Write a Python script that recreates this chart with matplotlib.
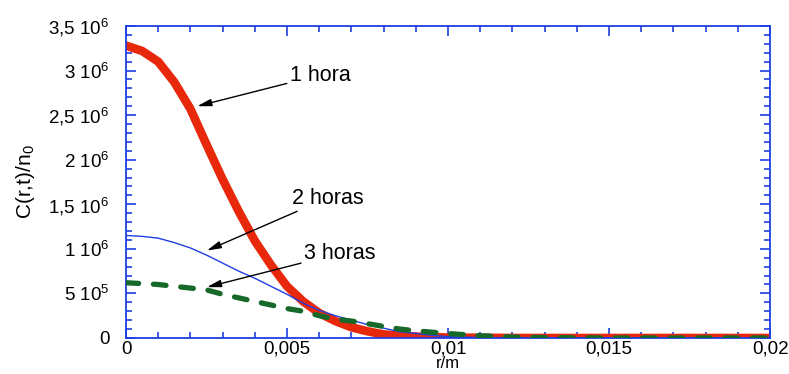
import matplotlib
matplotlib.use("Agg")
import matplotlib.pyplot as plt
from matplotlib.ticker import FixedLocator, FixedFormatter, MultipleLocator

plt.rcParams['font.family'] = ['Liberation Sans', 'DejaVu Sans']
plt.rcParams['mathtext.fontset'] = 'custom'
plt.rcParams['mathtext.rm'] = 'Liberation Sans'
plt.rcParams['mathtext.it'] = 'Liberation Sans'

# ---- data ----
r_1h = [0, 0.0005, 0.001, 0.0015, 0.002, 0.0025, 0.003, 0.0035, 0.004, 0.0045,
        0.005, 0.0055, 0.006, 0.0065, 0.007, 0.0075, 0.008, 0.009, 0.01, 0.012,
        0.015, 0.02]
c_1h = [3.28e6, 3.22e6, 3.10e6, 2.87e6, 2.57e6, 2.17e6, 1.78e6, 1.42e6, 1.09e6, 0.82e6,
        0.58e6, 0.41e6, 0.28e6, 0.19e6, 0.12e6, 0.075e6, 0.04e6, 0.015e6, 0.005e6, 0.0,
        0.0, 0.0]

r_2h = [0, 0.0005, 0.001, 0.0015, 0.002, 0.0025, 0.003, 0.0035, 0.004, 0.0045,
        0.005, 0.0055, 0.006, 0.0065, 0.007, 0.0075, 0.008, 0.0085, 0.009, 0.0095,
        0.01, 0.011, 0.012, 0.015, 0.02]
c_2h = [1.15e6, 1.14e6, 1.12e6, 1.07e6, 1.01e6, 0.93e6, 0.84e6, 0.75e6, 0.67e6, 0.58e6,
        0.49e6, 0.39e6, 0.31e6, 0.25e6, 0.20e6, 0.15e6, 0.11e6, 0.07e6, 0.05e6, 0.03e6,
        0.015e6, 0.005e6, 0.0, 0.0, 0.0]

r_3h = [0, 0.0005, 0.001, 0.0015, 0.002, 0.0025, 0.003, 0.0035, 0.004, 0.0045,
        0.005, 0.0055, 0.006, 0.0065, 0.007, 0.0075, 0.008, 0.0085, 0.009, 0.0095,
        0.01, 0.011, 0.012, 0.013, 0.015, 0.02]
c_3h = [0.62e6, 0.61e6, 0.60e6, 0.58e6, 0.56e6, 0.54e6, 0.49e6, 0.45e6, 0.41e6, 0.37e6,
        0.33e6, 0.30e6, 0.25e6, 0.21e6, 0.19e6, 0.16e6, 0.13e6, 0.10e6, 0.08e6, 0.065e6,
        0.05e6, 0.025e6, 0.01e6, 0.004e6, 0.0, 0.0]

x_ticks = [0, 0.005, 0.01, 0.015, 0.02]
x_labels = ["0", "0,005", "0,01", "0,015", "0,02"]
y_ticks = [0, 0.5e6, 1e6, 1.5e6, 2e6, 2.5e6, 3e6, 3.5e6]
y_labels = ["0", r"5 10$^{5}$", r"1 10$^{6}$", r"1,5 10$^{6}$", r"2 10$^{6}$",
            r"2,5 10$^{6}$", r"3 10$^{6}$", r"3,5 10$^{6}$"]

labels = ["1 hora", "2 horas", "3 horas"]

# ---- figure ----
fig = plt.figure(figsize=(7.89, 3.74), dpi=100)
ax = fig.add_axes([0.1597, 0.0963, 0.8163, 0.8342])

frame_blue = '#1f3fe0'
red = '#e8280a'
green = '#17692a'

ax.plot(r_1h, c_1h, color=red, lw=6.2, solid_capstyle='round', solid_joinstyle='round', zorder=2)
ax.plot(r_2h, c_2h, color=frame_blue, lw=1.0, zorder=3)
ax.plot(r_3h, c_3h, color=green, lw=3.8, dashes=(2.4, 2.8), dash_capstyle='round', zorder=4)

ax.set_xlim(0, 0.02)
ax.set_ylim(0, 3.5e6)

ax.xaxis.set_major_locator(FixedLocator(x_ticks))
ax.xaxis.set_major_formatter(FixedFormatter(x_labels))
ax.xaxis.set_minor_locator(MultipleLocator(0.001))
ax.yaxis.set_major_locator(FixedLocator(y_ticks))
ax.yaxis.set_major_formatter(FixedFormatter(y_labels))
ax.yaxis.set_minor_locator(MultipleLocator(1e5))

for s in ax.spines.values():
    s.set_color(frame_blue)
    s.set_linewidth(1.3)

ax.tick_params(which='both', direction='in', top=True, right=True, color=frame_blue,
               labelsize=13.5, width=1.2, labelcolor='black')
ax.tick_params(which='major', length=7.5)
ax.tick_params(which='minor', length=4.5)
ax.tick_params(axis='y', which='major', pad=12)
ax.tick_params(axis='x', which='major', pad=2)

ax.set_xlabel("r/m", fontsize=12, labelpad=-1)
ax.set_ylabel(r"C(r,t)/n$_{0}$", fontsize=15, labelpad=8)

arrowprops = dict(arrowstyle='-|>,head_length=0.55,head_width=0.14', color='black', lw=1.0,
                  shrinkA=0, shrinkB=0)
ax.annotate(labels[0], xy=(0.00221, 2.6e6), xytext=(0.00508, 2.95e6),
            fontsize=15.5, va='center', ha='left', arrowprops=arrowprops)
ax.annotate(labels[1], xy=(0.00251, 0.98e6), xytext=(0.00515, 1.57e6),
            fontsize=15.5, va='center', ha='left', arrowprops=arrowprops)
ax.annotate(labels[2], xy=(0.00251, 0.57e6), xytext=(0.00552, 0.95e6),
            fontsize=15.5, va='center', ha='left', arrowprops=arrowprops)

fig.savefig("out.png", dpi=100)
